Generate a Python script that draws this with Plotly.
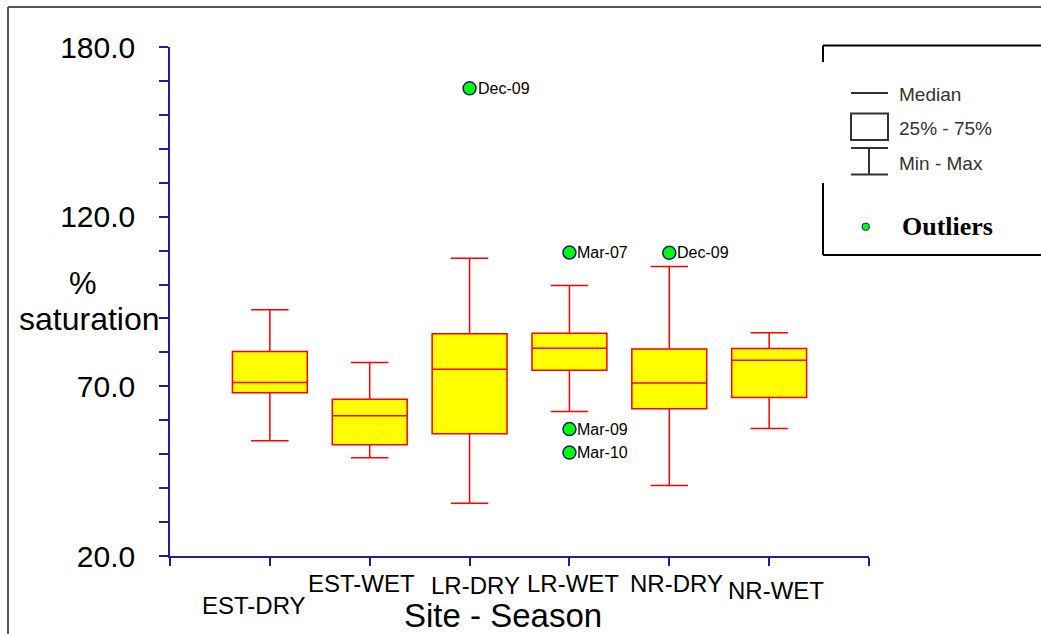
import plotly.graph_objects as go

# ---------------- data ----------------
categories = ["EST-DRY", "EST-WET", "LR-DRY", "LR-WET", "NR-DRY", "NR-WET"]
whisker_min = [56.2, 50.9, 36.6, 65.4, 42.2, 60.1]
quart_1 = [71.3, 55.0, 58.4, 78.4, 66.3, 69.8]
medians = [74.5, 64.1, 78.7, 85.3, 74.4, 81.5]
quart_3 = [84.3, 69.3, 89.9, 90.0, 85.1, 85.2]
whisker_max = [97.4, 80.8, 113.6, 105.0, 111.0, 90.2]

outlier_cat = ["LR-DRY", "LR-WET", "LR-WET", "LR-WET", "NR-DRY"]
outlier_val = [167.0, 115.4, 59.9, 52.5, 115.3]
outlier_lbl = ["Dec-09", "Mar-07", "Mar-09", "Mar-10", "Dec-09"]

y_major_labels = ["20.0", "70.0", "120.0", "180.0"]

# ---------------- geometry helpers (layout only) ----------------
W, H = 1041, 634
L, R, T, B = 170, 869, 47, 556
def px(x):
    return (x - L) / (R - L)
def py(y):
    return (B - y) / (B - T)

AXIS = "#1f1f9a"
SANS = "Liberation Sans, Arial, sans-serif"
Y0, Y1 = 20, 180
n_minor = 15
y_tickvals = [Y0 + i * (Y1 - Y0) / n_minor for i in range(n_minor + 1)]
y_ticktext = [y_major_labels[i // 5] if i % 5 == 0 else "" for i in range(n_minor + 1)]

pos = {c: i + 1 for i, c in enumerate(categories)}

fig = go.Figure()
fig.add_trace(go.Box(
    x=[pos[c] for c in categories],
    q1=quart_1, median=medians, q3=quart_3,
    lowerfence=whisker_min, upperfence=whisker_max,
    width=0.75, whiskerwidth=0.5,
    fillcolor="#ffff00",
    line=dict(color="#ff0000", width=1.5),
    boxpoints=False, hoverinfo="skip", showlegend=False,
))
fig.add_trace(go.Scatter(
    x=[pos[c] for c in outlier_cat], y=outlier_val,
    mode="markers",
    marker=dict(size=13, color="#00ff00", line=dict(color="#1a1a80", width=1.5)),
    showlegend=False, cliponaxis=False, hoverinfo="skip",
))

fig.update_xaxes(
    range=[0, 7], tickvals=list(range(8)), ticktext=[""] * 8,
    ticks="outside", ticklen=8, tickcolor=AXIS, tickwidth=1.5,
    showline=True, linecolor=AXIS, linewidth=1.5,
    showgrid=False, zeroline=False,
)
fig.update_yaxes(
    range=[Y0, Y1], tickvals=y_tickvals, ticktext=y_ticktext,
    ticks="outside", ticklen=9, tickcolor=AXIS, tickwidth=1.5,
    showline=True, linecolor=AXIS, linewidth=1.5,
    showgrid=False, zeroline=False, ticklabelstandoff=18,
    tickfont=dict(family=SANS, size=30, color="black"),
)

annotations = []
# outlier labels
for c, v, t in zip(outlier_cat, outlier_val, outlier_lbl):
    annotations.append(dict(
        x=pos[c], y=v, xref="x", yref="y", text=t, showarrow=False,
        xanchor="left", yanchor="middle", xshift=6,
        font=dict(family=SANS, size=16, color="black"),
    ))

# x category labels (staggered as in the original)
label_dx = [-16, -8, 6, 4, 7, 7]
label_y = [605, 583, 585, 583, 583, 590]
for c, dx, yy in zip(categories, label_dx, label_y):
    annotations.append(dict(
        x=pos[c], xref="x", xshift=dx, y=py(yy), yref="paper",
        text=c, showarrow=False, xanchor="center", yanchor="middle",
        font=dict(family=SANS, size=24, color="black"),
    ))

def txt(x, y, text, size, anchor="center", family=SANS, color="black"):
    return dict(x=px(x), y=py(y), xref="paper", yref="paper", text=text,
                showarrow=False, xanchor=anchor, yanchor="middle",
                font=dict(family=family, size=size, color=color))

annotations += [
    txt(503, 615, "Site - Season", 33),
    txt(83, 283, "%", 31),
    txt(89, 319, "saturation", 32),
    txt(897, 94, "Median", 19, "left", color="#333"),
    txt(897, 128, "25% - 75%", 19, "left", color="#333"),
    txt(897, 163, "Min - Max", 19, "left", color="#333"),
    txt(900, 226, "<b>Outliers</b>", 26, "left", family="Liberation Serif, Times New Roman, serif"),
]

def seg(x0, y0, x1, y1, color, width):
    return dict(type="line", xref="paper", yref="paper",
                x0=px(x0), y0=py(y0), x1=px(x1), y1=py(y1),
                line=dict(color=color, width=width))

shapes = [
    # outer frame
    seg(8, 7, 8, 640, "#555555", 2),
    seg(8, 7, 1045, 7, "#555555", 2),
    # legend frame
    seg(823, 45.5, 1045, 45.5, "black", 2),
    seg(823, 45.5, 823, 62, "black", 2),
    seg(823, 183, 823, 255, "black", 2),
    seg(823, 255, 1045, 255, "black", 2),
    # legend symbols
    seg(851, 93, 888, 93, "#333333", 2),
    dict(type="rect", xref="paper", yref="paper", x0=px(851), y0=py(113.5), x1=px(888), y1=py(140),
         line=dict(color="#333333", width=2)),
    seg(851, 148, 888, 148, "#333333", 2),
    seg(869, 148, 869, 174.5, "#333333", 2),
    seg(851, 174.5, 888, 174.5, "#333333", 2),
    dict(type="circle", xref="paper", yref="paper", x0=px(862), y0=py(223), x1=px(869.5), y1=py(230.5),
         fillcolor="#00ff00", line=dict(color="#1a1a80", width=1)),
]

fig.update_layout(
    width=W, height=H,
    margin=dict(l=L, r=W - R, t=T, b=H - B, pad=0),
    paper_bgcolor="white", plot_bgcolor="white",
    annotations=annotations, shapes=shapes,
    font=dict(family=SANS, color="black"),
)

fig.write_html(
    "out.html",
    config={"displayModeBar": False},
    post_script="document.body.style.margin='0';document.body.style.padding='0';document.body.style.overflow='hidden';",
)
